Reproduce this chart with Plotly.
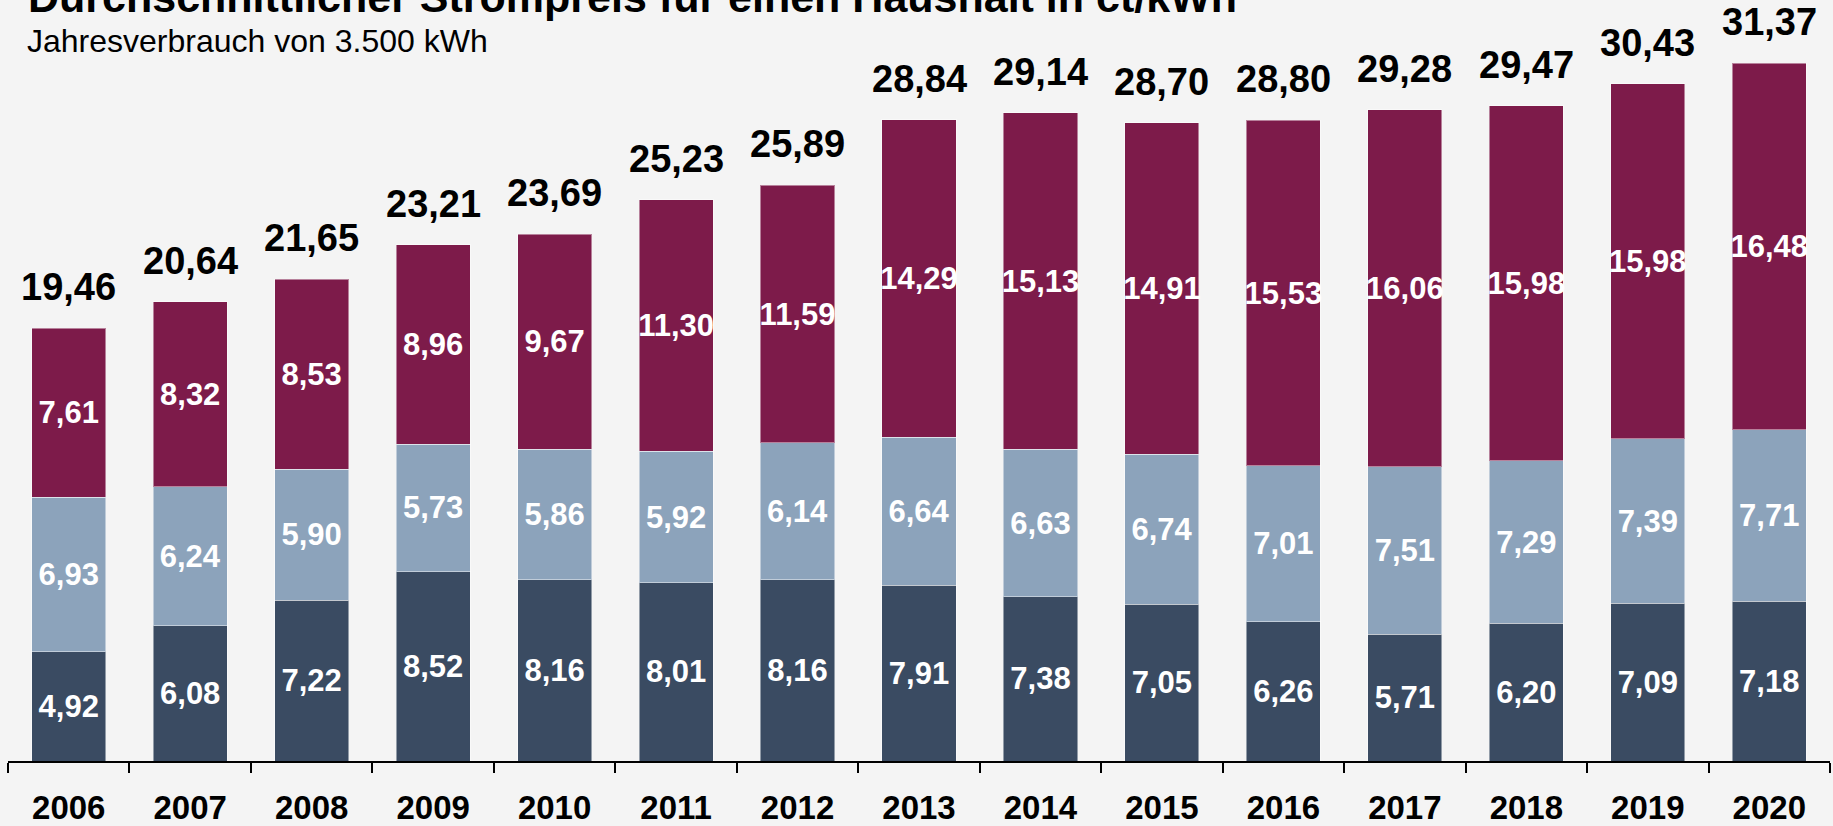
import plotly.graph_objects as go

years = ["2006", "2007", "2008", "2009", "2010", "2011", "2012", "2013",
         "2014", "2015", "2016", "2017", "2018", "2019", "2020"]
beschaffung = [4.92, 6.08, 7.22, 8.52, 8.16, 8.01, 8.16, 7.91, 7.38, 7.05, 6.26, 5.71, 6.20, 7.09, 7.18]
netzentgelte = [6.93, 6.24, 5.90, 5.73, 5.86, 5.92, 6.14, 6.64, 6.63, 6.74, 7.01, 7.51, 7.29, 7.39, 7.71]
steuern = [7.61, 8.32, 8.53, 8.96, 9.67, 11.30, 11.59, 14.29, 15.13, 14.91, 15.53, 16.06, 15.98, 15.98, 16.48]
totals = [19.46, 20.64, 21.65, 23.21, 23.69, 25.23, 25.89, 28.84, 29.14, 28.70, 28.80, 29.28, 29.47, 30.43, 31.37]

title_text = "Durchschnittlicher Strompreis für einen Haushalt in ct/kWh"
subtitle_text = "Jahresverbrauch von 3.500 kWh"

W, H = 1833, 826
M_L, M_R, M_T, M_B = 8, 3, 0, 62
PLOT_H = H - M_T - M_B
PX_PER_UNIT = 22.33
FONT = "Liberation Sans, Arial, sans-serif"


def de(v):
    return f"{v:.2f}".replace(".", ",")


series = [
    ("Beschaffung, Netzentgelt, Vertrieb", beschaffung, "#3A4B62"),
    ("Netzentgelte", netzentgelte, "#8CA3BB"),
    ("Steuern, Abgaben und Umlagen", steuern, "#7D1B4A"),
]

fig = go.Figure()
for name, vals, color in series:
    fig.add_trace(go.Bar(
        name=name,
        x=years,
        y=vals,
        marker=dict(color=color, line=dict(color="rgba(255,255,255,0.45)", width=1)),
        text=[de(v) for v in vals],
        textposition="inside",
        insidetextanchor="middle",
        textangle=0,
        textfont=dict(family=FONT, size=31, color="white", weight="bold"),
        hoverinfo="skip",
        showlegend=False,
    ))

annotations = []
for i, t in enumerate(totals):
    annotations.append(dict(
        x=i, y=t, xref="x", yref="y",
        text=de(t), showarrow=False,
        yanchor="bottom", xanchor="center", yshift=18,
        font=dict(family=FONT, size=38, color="black", weight="bold"),
    ))


def py(px_from_top):
    return 1 - (px_from_top - M_T) / PLOT_H


def px_x(px):
    return (px - M_L) / (W - M_L - M_R)


annotations.append(dict(
    x=px_x(26), y=py(13 + 9 + 1), xref="paper", yref="paper",
    xanchor="left", yanchor="bottom", showarrow=False,
    text="<b>" + title_text + "</b>",
    font=dict(family=FONT, size=43, color="black"),
))
annotations.append(dict(
    x=px_x(25), y=py(53 + 7 + 1), xref="paper", yref="paper",
    xanchor="left", yanchor="bottom", showarrow=False,
    text=subtitle_text,
    font=dict(family=FONT, size=32, color="black"),
))

fig.update_layout(
    width=W, height=H,
    barmode="stack",
    bargap=0.39,
    paper_bgcolor="#F4F4F4",
    plot_bgcolor="#F4F4F4",
    margin=dict(l=M_L, r=M_R, t=M_T, b=M_B),
    uniformtext=dict(minsize=31, mode="show"),
    annotations=annotations,
    hovermode=False,
    xaxis=dict(
        type="category",
        range=[-0.5, len(years) - 0.5],
        autorange=False,
        tickson="boundaries",
        ticks="outside", ticklen=10, tickwidth=2, tickcolor="black",
        showline=True, linecolor="black", linewidth=2,
        showgrid=False, zeroline=False,
        tickangle=0,
        tickfont=dict(family=FONT, size=33, color="black", weight="bold"),
        ticklabelstandoff=16,
    ),
    yaxis=dict(
        visible=False,
        range=[0, PLOT_H / PX_PER_UNIT],
        autorange=False,
        showgrid=False, zeroline=False,
    ),
)

fig.write_html(
    "out.html",
    config={"displayModeBar": False, "staticPlot": True},
    post_script="document.body.style.margin='0';document.body.style.overflow='hidden';"
                "document.body.style.background='#F4F4F4';",
)
